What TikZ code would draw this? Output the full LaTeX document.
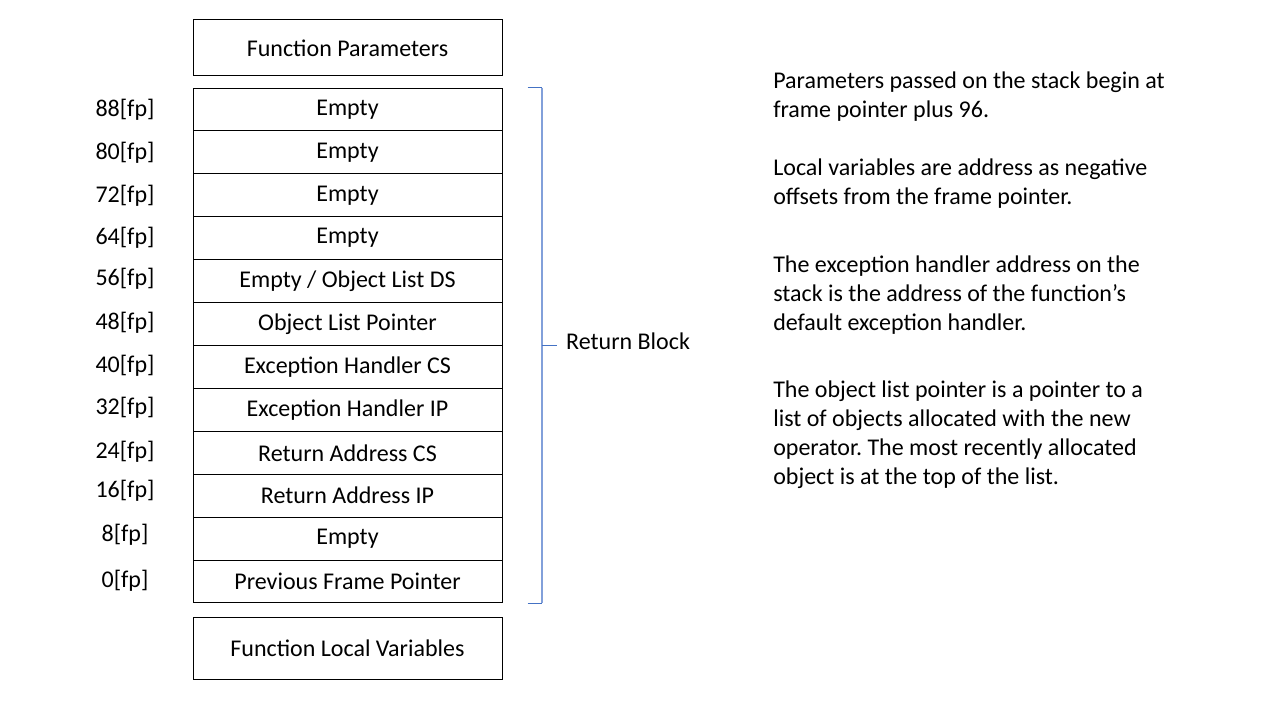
\documentclass[tikz,border=0pt]{standalone}
\usepackage{fontspec}
\setmainfont{Carlito}
\frenchspacing
\usetikzlibrary{calc}
\definecolor{brblue}{RGB}{68,114,196}
\definecolor{brlight}{RGB}{130,160,218}

\begin{document}
\begin{tikzpicture}[x=0.75pt, y=-0.75pt,
  every node/.style={font=\fontsize{18}{21.75}\selectfont, text=black},
  cell/.style={draw, line width=0.75pt, minimum width=231.75pt,
               minimum height=32.19pt, inner sep=0pt},
  fplabel/.style={inner sep=0pt},
  note/.style={anchor=base west, align=left, inner sep=0pt}]
  \useasboundingbox (0,0) rectangle (1280,720);

  % Parameters above the frame
  \node[cell, minimum height=42pt] (params) at (347.5, 48) {Function Parameters};

  % Stack frame slots
  \node[cell] (s88) at (347.5, 109.5) {Empty};
  \node[cell] (s80) at (347.5, 152.4) {Empty};
  \node[cell] (s72) at (347.5, 195.3) {Empty};
  \node[cell] (s64) at (347.5, 238.2) {Empty};
  \node[cell] (s56) at (347.5, 281.1) {Empty / Object List DS};
  \node[cell] (s48) at (347.5, 324.0) {Object List Pointer};
  \node[cell] (s40) at (347.5, 366.9) {Exception Handler CS};
  \node[cell] (s32) at (347.5, 409.9) {Exception Handler IP};
  \node[cell] (s24) at (347.5, 452.8) {Return Address CS};
  \node[cell] (s16) at (347.5, 495.7) {Return Address IP};
  \node[cell] (s8)  at (347.5, 538.6) {Empty};
  \node[cell] (s0)  at (347.5, 581.5) {Previous Frame Pointer};

  % Locals below the frame
  \node[cell, minimum height=46.5pt] (locals) at (347.5, 648) {Function Local Variables};

  % Offsets from the frame pointer
  \node[fplabel] (o88) at (125, 110) {88[fp]};
  \node[fplabel] (o80) at (125, 153) {80[fp]};
  \node[fplabel] (o72) at (125, 196) {72[fp]};
  \node[fplabel] (o64) at (125, 238) {64[fp]};
  \node[fplabel] (o56) at (125, 279) {56[fp]};
  \node[fplabel] (o48) at (125, 323) {48[fp]};
  \node[fplabel] (o40) at (125, 366) {40[fp]};
  \node[fplabel] (o32) at (125, 408) {32[fp]};
  \node[fplabel] (o24) at (125, 452) {24[fp]};
  \node[fplabel] (o16) at (125, 491) {16[fp]};
  \node[fplabel] (o8)  at (125, 535) {8[fp]};
  \node[fplabel] (o0)  at (125, 581) {0[fp]};

  % Bracket round the return block
  \coordinate (brtop) at ($(s88.north east)+(25,0)$);
  \coordinate (brbot) at ($(s0.south east)+(25,0)$);
  \coordinate (brmid) at ($(brtop)!0.5!(brbot)$);
  \draw[draw=brlight, line width=1.5pt] ($(brtop)+(14,0)$) -- ($(brbot)+(14,0)$);
  \draw[draw=brblue, line width=1pt] (brtop) -- ($(brtop)+(14,0)$);
  \draw[draw=brblue, line width=1pt] (brbot) -- ($(brbot)+(14,0)$);
  \draw[draw=brblue, line width=1pt] ($(brmid)+(14,0)$) -- ($(brmid)+(29,0)$)
    node[right, inner sep=0pt, xshift=6.75pt, yshift=3pt] (retblock) {Return Block};

  % Notes (base anchor sits on the last line)
  \node[note] (note1) at (773, 118)
    {Parameters passed on the stack begin at\\frame pointer plus 96.};
  \node[note] (note2) at (773, 205)
    {Local variables are address as negative\\offsets from the frame pointer.};
  \node[note] (note3) at (773, 330)
    {The exception handler address on the\\stack is the address of the function’s\\default exception handler.};
  \node[note] (note4) at (773, 484)
    {The object list pointer is a pointer to a\\list of objects allocated with the new\\operator. The most recently allocated\\object is at the top of the list.};
\end{tikzpicture}
\end{document}
